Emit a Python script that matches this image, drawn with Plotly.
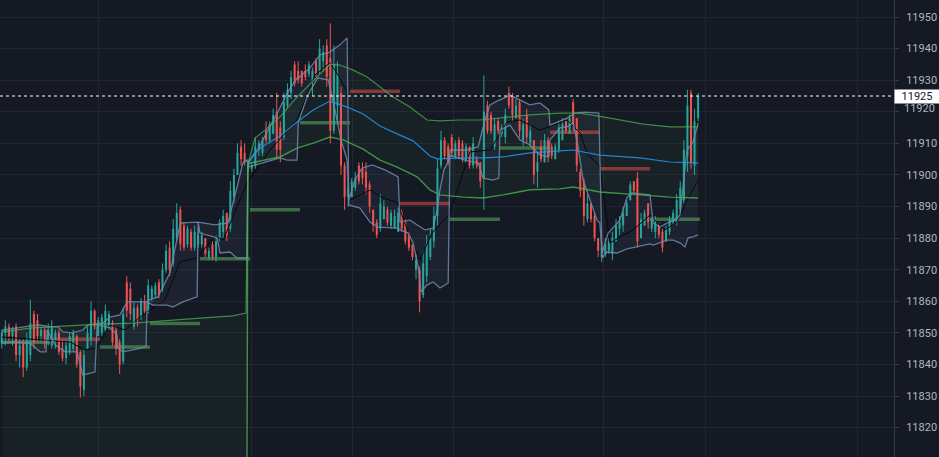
import plotly.graph_objects as go

# ---------------- candles (one bar = one row) ----------------
opens = [11847, 11850, 11852, 11849, 11852, 11843, 11847, 11839, 11843, 11856, 11854, 11849, 11851, 11847,
         11846, 11847, 11850, 11845, 11842, 11844, 11845, 11849, 11844, 11832, 11845, 11848, 11857, 11849,
         11850, 11851, 11852, 11853, 11851, 11847, 11841, 11866, 11864, 11852, 11858, 11855, 11860, 11857,
         11861, 11862, 11866, 11864, 11870, 11877, 11872, 11880, 11889, 11884, 11878, 11882, 11877, 11878,
         11878, 11880, 11874, 11878, 11874, 11880, 11882, 11888, 11883, 11893, 11900, 11909, 11907, 11902,
         11902, 11903, 11908, 11907, 11914, 11911, 11913, 11920, 11915, 11912, 11922, 11926, 11935, 11933,
         11933, 11933, 11932, 11930, 11936, 11933, 11936, 11941, 11937, 11914, 11922, 11926, 11903, 11893,
         11893, 11896, 11903, 11902, 11901, 11897, 11889, 11885, 11883, 11886, 11889, 11884, 11883, 11882,
         11888, 11885, 11881, 11878, 11870, 11870, 11862, 11868, 11874, 11879, 11887, 11903, 11911, 11909,
         11912, 11906, 11911, 11910, 11904, 11909, 11903, 11905, 11904, 11899, 11922, 11919, 11909, 11917,
         11913, 11912, 11926, 11925, 11918, 11923, 11911, 11919, 11910, 11911, 11901, 11909, 11904, 11911,
         11909, 11905, 11908, 11911, 11917, 11913, 11923, 11918, 11901, 11898, 11886, 11891, 11887, 11880,
         11874, 11875, 11876, 11875, 11879, 11883, 11884, 11887, 11892, 11898, 11899, 11880, 11884, 11891,
         11883, 11882, 11884, 11882, 11879, 11882, 11885, 11885, 11889, 11892, 11906, 11926, 11903, 11918]
highs = [11851, 11854, 11853, 11852, 11853, 11848, 11848, 11850, 11860.5, 11857, 11856, 11852, 11852, 11853,
         11854, 11851, 11851, 11848, 11848, 11850, 11851, 11849.5, 11844.5, 11845, 11852, 11860, 11857.5, 11855,
         11856, 11859, 11857, 11854, 11852, 11848, 11858, 11868, 11866, 11860, 11859, 11861, 11862, 11867,
         11865, 11866, 11867, 11872, 11878, 11879, 11886, 11891, 11890, 11885, 11884, 11883, 11884, 11883,
         11882, 11880, 11877, 11879, 11881, 11886, 11889, 11888, 11898, 11902, 11910, 11911, 11910, 11905,
         11904, 11912, 11911, 11912, 11917, 11917, 11921, 11926, 11917, 11926, 11929, 11933, 11936, 11936,
         11933, 11935, 11936, 11934, 11937, 11943, 11941, 11943, 11948, 11941, 11936, 11928, 11904, 11899,
         11899, 11901, 11904, 11904, 11904, 11898, 11889, 11886, 11894, 11892, 11890, 11889, 11889, 11890,
         11889, 11886, 11882, 11879, 11875, 11871, 11876, 11881, 11883, 11890, 11905, 11914, 11912, 11910,
         11913, 11911, 11912, 11911, 11910, 11909, 11912, 11906, 11904, 11931.5, 11923.5, 11920, 11918, 11918,
         11916, 11921, 11928, 11926, 11924, 11924, 11918, 11921, 11916, 11911, 11907, 11911, 11913, 11912,
         11910, 11910, 11917, 11918, 11918, 11919, 11924, 11918, 11902, 11899, 11894, 11891, 11888, 11880,
         11879, 11880, 11880, 11882, 11886, 11887, 11890, 11892, 11898, 11898, 11901, 11888, 11889, 11891,
         11887, 11887, 11885, 11883, 11884, 11887, 11889, 11894, 11898, 11911, 11927, 11927, 11921, 11926]
lows = [11845, 11846, 11847, 11846, 11841, 11839, 11836, 11838, 11841, 11845, 11847, 11847, 11845, 11846,
        11845, 11845, 11843, 11841, 11840, 11843, 11844, 11839, 11829.5, 11830, 11845, 11846, 11851, 11849,
        11849, 11850, 11851, 11846, 11843, 11837, 11840, 11855, 11854, 11851, 11852, 11854, 11856, 11856,
        11860, 11861, 11861, 11863, 11869, 11868, 11871, 11879, 11876, 11876, 11877, 11876, 11876, 11877,
        11877, 11874, 11873, 11873, 11872.5, 11879, 11880, 11879, 11882, 11891, 11900, 11903, 11903, 11901,
        11901, 11902, 11906, 11906, 11910, 11910, 11913, 11905, 11904, 11911, 11921, 11924, 11928, 11929,
        11928, 11930, 11931, 11925, 11931, 11932, 11933, 11928, 11910, 11913, 11917, 11900, 11889, 11890,
        11893, 11895, 11897, 11897, 11894, 11888, 11882, 11880, 11882, 11886, 11884, 11883, 11883, 11882,
        11882, 11878, 11876, 11873, 11867, 11856.5, 11861, 11866, 11873, 11877, 11884, 11902, 11905, 11903,
        11906, 11905, 11905, 11904, 11904, 11902, 11902, 11902, 11896, 11889, 11913, 11913, 11908, 11913,
        11912, 11910, 11921, 11917, 11918, 11912, 11909, 11910, 11909, 11897, 11896, 11904, 11904, 11904,
        11905, 11905, 11907, 11911, 11913, 11913, 11914, 11901, 11893, 11884, 11885, 11885, 11879, 11874,
        11872.5, 11874, 11875, 11873, 11879, 11881, 11882, 11887, 11892, 11894, 11877, 11880, 11884, 11883,
        11882, 11880, 11880, 11875.5, 11879, 11881, 11884, 11884, 11888, 11891, 11901, 11902, 11900, 11917]
closes = [11850, 11852, 11849, 11851, 11843, 11846, 11839, 11848, 11853, 11847, 11849, 11851, 11847, 11851,
          11852, 11850, 11844, 11842, 11846, 11849, 11850, 11840, 11833, 11843, 11850, 11857, 11852, 11854,
          11855, 11857, 11856, 11847, 11845, 11840, 11856, 11857, 11856, 11858, 11854, 11860, 11857, 11865,
          11864, 11865, 11862, 11870, 11876, 11870, 11883, 11888, 11878, 11877, 11883, 11877, 11882, 11881,
          11881, 11875, 11876, 11874, 11879, 11885, 11887, 11881, 11895, 11900, 11907, 11905, 11904, 11904,
          11903, 11909, 11910, 11911, 11911, 11916, 11919, 11908, 11908, 11923, 11927, 11931, 11929, 11930,
          11929, 11931, 11935, 11933, 11932, 11940, 11939, 11931, 11914, 11935, 11932, 11903, 11893, 11896,
          11898, 11899, 11898, 11899, 11896, 11890, 11884, 11881, 11891, 11890, 11885, 11888, 11887, 11888,
          11883, 11879, 11877, 11874, 11873, 11860, 11872, 11878, 11880, 11887, 11902, 11911, 11906, 11904,
          11907, 11910, 11906, 11905, 11909, 11903, 11910, 11903, 11898, 11920, 11914, 11914, 11916, 11914,
          11915, 11919, 11922, 11919, 11922, 11914, 11916, 11912, 11914, 11900, 11904, 11905, 11911, 11906,
          11906, 11909, 11915, 11916, 11914, 11918, 11916, 11903, 11895, 11887, 11891, 11886, 11880, 11876,
          11877, 11878, 11879, 11880, 11884, 11885, 11888, 11891, 11897, 11895, 11879, 11886, 11888, 11885,
          11886, 11885, 11881, 11877, 11883, 11886, 11888, 11892, 11896, 11908, 11922, 11904, 11917, 11925]

# ---------------- per-period level markers ----------------
period_levels = [11847, 11848, 11845.5, 11853, 11873.5, 11889, 11916.5,
                 11926.5, 11891, 11886, 11908.5, 11913.5, 11902, 11886]
period_dirs = ["up", "down", "up", "up", "up", "up", "up",
               "down", "down", "up", "up", "down", "down", "up"]

# ---------------- session bands (green) and their middle (blue) ----------------
band_upper_x = [0, 8.7, 18.3, 27.5, 36.7, 46.3, 55.5, 64.7, 68.4, 68.9, 70.9, 73.7, 77.9, 82.7, 88.3,
                91.9, 94.7, 98.4, 102.3, 105.9, 109.6, 114.3, 119.1, 122.7, 128.3, 133.9, 139.5, 147.9,
                156.3, 161.9, 168.4, 179.6, 187.1, 195.0]
band_upper_y = [11850.3, 11851.6, 11852.2, 11852.8, 11853.1, 11853.8, 11854.7, 11855.4, 11856.3, 11903.2,
                11911.7, 11914.2, 11918.4, 11924.7, 11931.0, 11935.1, 11934.8, 11933.2, 11931.0, 11927.9,
                11924.7, 11921.5, 11917.4, 11917.1, 11917.4, 11917.4, 11918.0, 11919.0, 11919.6, 11919.6,
                11918.4, 11916.1, 11915.2, 11915.2]
band_lower_x = [0, 68.4, 68.9, 69.5, 77.9, 82.7, 87.2, 91.9, 95.6, 101.2, 105.9, 110.7, 116.3, 119.9,
                122.7, 129.2, 134.8, 140.4, 147.9, 156.3, 160.0, 167.5, 178.7, 187.1, 195.0]
band_lower_y = [11700, 11700, 11903.2, 11903.8, 11905.7, 11908.5, 11910.1, 11912.0, 11911.1, 11908.2,
                11904.7, 11902.5, 11899.4, 11895.3, 11893.7, 11893.0, 11892.7, 11893.7, 11895.3, 11895.6,
                11896.2, 11894.6, 11893.7, 11893.0, 11892.7]
band_mid_x = [68.9, 70.9, 73.7, 77.9, 82.7, 87.2, 91.9, 96.7, 101.2, 105.9, 110.7, 115.2, 119.9, 121.9,
              129.2, 134.8, 140.4, 147.9, 156.3, 160.0, 167.5, 178.7, 187.1, 195.0]
band_mid_y = [11903.5, 11907.3, 11909.5, 11912.3, 11916.8, 11920.6, 11923.4, 11921.5, 11919.3, 11915.5,
              11913.0, 11910.8, 11906.0, 11905.1, 11905.4, 11905.4, 11905.7, 11907.0, 11907.6, 11907.9,
              11906.3, 11905.4, 11904.1, 11903.8]

# ---------------- period range channel (slate) ----------------
chan_up_x = [0, 5.1, 10.1, 12.4, 12.7, 15.7, 17.1, 19.7, 22.7, 24.1, 26.4,
             26.7, 28.3, 30.3, 33.1, 35.1, 40.7,
             41.0, 43.7, 47.1, 49.9, 50.5, 54.7,
             55.0, 59.7, 63.3, 65.9, 67.5, 68.7,
             68.9, 71.7, 74.5, 77.3, 80.1, 82.7,
             83.0, 86.3, 89.1, 91.9, 94.7, 96.7,
             97.2, 98.9, 100.9, 103.7, 107.3, 111.0,
             111.5, 114.3, 118.5, 120.8, 121.9, 122.7, 123.8, 125.2,
             125.5, 129.7, 133.4, 135.3, 136.7, 139.2,
             139.5, 142.3, 145.1, 147.9, 150.7, 153.2,
             153.5, 158.3, 160.5, 163.3, 167.2,
             168.1, 169.8, 173.1, 175.1, 176.5, 181.5,
             182.4, 184.3, 186.3, 188.5, 189.9, 191.9, 193.6, 195.0]
chan_up_y = [11850.9, 11851.6, 11852.5, 11852.2, 11851.9, 11851.9, 11850.3, 11850.0, 11850.9, 11852.5, 11852.8,
             11852.8, 11853.1, 11855.0, 11855.7, 11859.8, 11859.8,
             11860.4, 11861.4, 11869.0, 11884.2, 11884.8, 11885.1,
             11885.1, 11884.2, 11884.8, 11896.2, 11903.8, 11904.7,
             11903.8, 11907.9, 11914.2, 11919.9, 11926.3, 11930.7,
             11930.7, 11933.9, 11938.0, 11938.9, 11941.2, 11943.4,
             11892.1, 11898.4, 11902.2, 11903.2, 11901.6, 11899.4,
             11885.1, 11885.7, 11882.6, 11883.2, 11888.9, 11895.3, 11901.6, 11904.7,
             11907.9, 11907.9, 11908.9, 11917.4, 11922.2, 11923.7,
             11923.7, 11925.3, 11923.7, 11922.2, 11922.8, 11920.6,
             11915.8, 11918.0, 11919.6, 11919.9, 11919.6,
             11875.3, 11881.6, 11885.7, 11893.0, 11894.3, 11893.7,
             11884.8, 11883.5, 11884.8, 11885.7, 11887.3, 11907.9, 11910.4, 11916.5]
chan_lo_x = [0, 3.1, 7.9, 10.7, 12.4,
             12.7, 14.9, 17.7, 21.1, 22.7, 26.1,
             26.7, 30.3, 32.3, 32.5, 33.9, 36.7, 40.4,
             40.7, 42.3, 46.3, 47.9, 50.7, 54.7,
             55.0, 55.5, 60.3, 61.1, 63.9, 65.9, 68.7,
             68.9, 73.1, 77.9, 79.9, 82.7,
             83.0, 85.7, 88.5, 91.4, 93.3, 95.0, 96.7,
             97.2, 100.3, 103.1, 105.4, 111.0,
             111.5, 113.8, 115.2, 116.6, 117.4, 119.1, 120.8, 122.7, 125.0,
             125.5, 129.7, 133.4, 134.8, 137.6, 139.2,
             139.5, 142.3, 145.1, 147.9, 150.7, 153.2,
             153.5, 156.3, 158.3, 160.0, 161.4, 162.8, 164.7, 166.7, 167.5,
             168.1, 169.5, 172.3, 175.1, 178.7, 181.5,
             182.4, 184.3, 186.3, 188.0, 189.9, 191.3, 192.2, 193.6, 195.0]
chan_lo_y = [11846.8, 11847.1, 11846.8, 11844.0, 11844.0,
             11850.9, 11846.2, 11844.0, 11844.0, 11836.7, 11837.6,
             11852.5, 11851.6, 11849.3, 11845.2, 11844.0, 11844.6, 11845.5,
             11859.8, 11858.8, 11858.8, 11858.2, 11859.8, 11861.4,
             11885.1, 11881.6, 11880.1, 11875.3, 11875.6, 11873.7, 11873.7,
             11902.5, 11903.8, 11905.4, 11904.7, 11904.7,
             11916.5, 11925.3, 11930.7, 11930.1, 11920.6, 11911.1, 11904.7,
             11890.5, 11889.5, 11885.1, 11883.5, 11883.2,
             11882.6, 11881.6, 11878.5, 11870.9, 11863.0, 11865.2, 11866.1, 11864.2, 11865.8,
             11906.3, 11904.7, 11903.8, 11899.0, 11898.4, 11899.0,
             11914.2, 11915.8, 11911.1, 11909.5, 11906.3, 11905.7,
             11911.1, 11914.9, 11915.2, 11916.5, 11908.9, 11898.4, 11892.1, 11885.7, 11884.8,
             11873.7, 11875.6, 11875.3, 11876.6, 11877.5, 11878.2,
             11877.8, 11878.5, 11879.4, 11879.4, 11878.5, 11877.2, 11880.1, 11880.4, 11881.0]
chan_mid_x = [0, 12.1, 19.1, 23.3, 26.4, 30.3, 34.5, 38.7, 41.5, 45.7, 49.9, 54.7, 59.7, 62.0, 68.7,
              75.1, 82.7, 87.7, 91.9, 94.7, 96.7, 97.5, 103.1, 106.8, 110.7, 114.3, 117.1, 120.5, 122.7,
              125.2, 131.1, 136.7, 141.5, 145.1, 150.7, 158.3, 161.9, 163.9, 167.5, 170.3, 176.8, 181.5,
              185.7, 189.1, 191.9, 195.0]
chan_mid_y = [11848.7, 11847.8, 11847.1, 11844.6, 11845.2, 11852.5, 11850.9, 11855.0, 11857.3, 11860.4,
              11872.5, 11873.7, 11880.7, 11879.4, 11897.5, 11907.9, 11917.4, 11931.7, 11935.5, 11930.7,
              11926.3, 11892.1, 11895.2, 11892.7, 11891.4, 11880.4, 11873.1, 11881.6, 11884.2, 11887.3,
              11907.3, 11907.9, 11916.8, 11917.4, 11914.2, 11917.4, 11913.3, 11907.0, 11902.5, 11878.5,
              11882.6, 11887.3, 11882.6, 11885.1, 11892.1, 11898.4]

# ---------------- styling ----------------
BG = "#151924"
GRID = "#212531"
UP = "#26a69a"
DOWN = "#ef5350"
BARS_PER_PERIOD = 14
n = len(closes)

fig = go.Figure()

# fills (below everything)
fig.add_trace(go.Scatter(x=band_upper_x, y=band_upper_y, mode="lines", line=dict(width=0),
                         hoverinfo="skip", showlegend=False))
fig.add_trace(go.Scatter(x=band_lower_x, y=band_lower_y, mode="lines", line=dict(width=0),
                         fill="tonexty", fillcolor="rgba(76,175,80,0.055)", hoverinfo="skip", showlegend=False))
fig.add_trace(go.Scatter(x=chan_up_x, y=chan_up_y, mode="lines", line=dict(width=0),
                         hoverinfo="skip", showlegend=False))
fig.add_trace(go.Scatter(x=chan_lo_x, y=chan_lo_y, mode="lines", line=dict(width=0),
                         fill="tonexty", fillcolor="rgba(120,140,175,0.08)", hoverinfo="skip", showlegend=False))

# period level markers
for k, (lvl, d) in enumerate(zip(period_levels, period_dirs)):
    x0 = k * BARS_PER_PERIOD - 0.5
    x1 = x0 + BARS_PER_PERIOD
    col = "rgba(102,187,106,0.5)" if d == "up" else "rgba(239,83,80,0.5)"
    fig.add_trace(go.Scatter(x=[max(x0, -0.3), x1], y=[lvl, lvl], mode="lines",
                             line=dict(color=col, width=3.5), hoverinfo="skip", showlegend=False))

# candles
def segs(idx, a, b):
    xs, ys = [], []
    for i in idx:
        xs += [i, i, None]
        ys += [a[i], b[i], None]
    return xs, ys

up_idx = [i for i in range(n) if closes[i] >= opens[i]]
dn_idx = [i for i in range(n) if closes[i] < opens[i]]
for idx, col in ((up_idx, UP), (dn_idx, DOWN)):
    wx, wy = segs(idx, lows, highs)
    fig.add_trace(go.Scatter(x=wx, y=wy, mode="lines", line=dict(color=col, width=1),
                             hoverinfo="skip", showlegend=False))
    bx, by = segs(idx, opens, closes)
    fig.add_trace(go.Scatter(x=bx, y=by, mode="lines", line=dict(color=col, width=2),
                             hoverinfo="skip", showlegend=False))

# indicator lines
fig.add_trace(go.Scatter(x=chan_mid_x, y=chan_mid_y, mode="lines",
                         line=dict(color="#07090d", width=1), hoverinfo="skip", showlegend=False))
fig.add_trace(go.Scatter(x=chan_up_x, y=chan_up_y, mode="lines",
                         line=dict(color="rgba(110,138,170,0.85)", width=1.3), hoverinfo="skip", showlegend=False))
fig.add_trace(go.Scatter(x=chan_lo_x, y=chan_lo_y, mode="lines",
                         line=dict(color="rgba(110,138,170,0.85)", width=1.3), hoverinfo="skip", showlegend=False))
fig.add_trace(go.Scatter(x=band_upper_x, y=band_upper_y, mode="lines",
                         line=dict(color="rgba(76,175,80,0.75)", width=1.2), hoverinfo="skip", showlegend=False))
fig.add_trace(go.Scatter(x=band_lower_x, y=band_lower_y, mode="lines",
                         line=dict(color="rgba(76,175,80,0.8)", width=1.4), hoverinfo="skip", showlegend=False))
fig.add_trace(go.Scatter(x=band_mid_x, y=band_mid_y, mode="lines",
                         line=dict(color="rgba(33,150,243,0.85)", width=1.2), hoverinfo="skip", showlegend=False))

last = closes[-1]
y_ticks = list(range(11820, 11951, 10))
tick_text = ["" if v == 11920 else str(v) for v in y_ticks]

fig.add_shape(type="line", xref="paper", x0=0, x1=1, y0=last, y1=last,
              line=dict(color="#ffffff", width=1, dash="dot"))
fig.add_annotation(xref="paper", x=1, xanchor="left", y=last, yanchor="middle",
                   text=f"{last:.0f}", showarrow=False, bgcolor="#ffffff",
                   font=dict(color="#131722", size=11, family="Roboto"),
                   width=44, height=13, borderpad=0, align="center")
fig.add_annotation(xref="paper", x=1, xanchor="left", xshift=8, y=11920.9, yanchor="middle",
                   text="11920", showarrow=False,
                   font=dict(color="#b2b5be", size=11, family="Roboto"))

fig.update_layout(
    width=939, height=457,
    margin=dict(l=0, r=45, t=0, b=0),
    paper_bgcolor=BG, plot_bgcolor=BG,
    showlegend=False,
    xaxis=dict(range=[-0.5, 249.85], showticklabels=False, tickmode="array",
               tickvals=[27.2, 69.8, 98.3, 126.4, 168.6, 197.2, 239.5],
               showgrid=True, gridcolor=GRID, zeroline=False, showline=False, ticks=""),
    yaxis=dict(side="right", range=[11810.7, 11955.4], tickmode="array",
               tickvals=y_ticks, ticktext=tick_text, showgrid=True, gridcolor=GRID,
               zeroline=False, showline=True, linecolor="#363a45", ticks="outside",
               ticklen=4, tickcolor="#363a45", ticklabelstandoff=5,
               tickfont=dict(color="#b2b5be", size=11, family="Roboto")),
)

fig.write_html("out.html", config={"displayModeBar": False},
               post_script="document.body.style.margin='0';document.body.style.overflow='hidden';document.body.style.background='" + BG + "';")
